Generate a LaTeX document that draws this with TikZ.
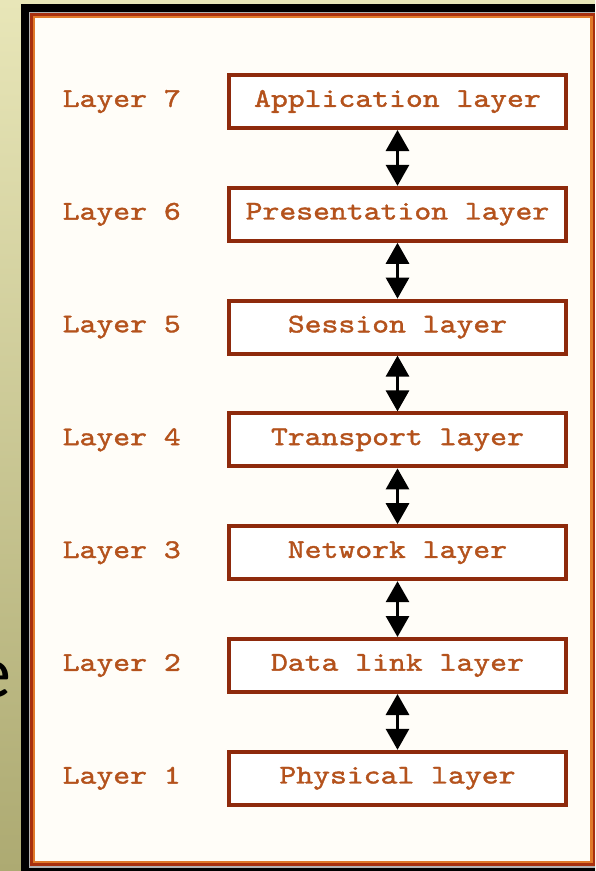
\documentclass[tikz,border=0pt]{standalone}
\usepackage{fontspec}
\newfontfamily\sidefont{Carlito}
\newfontfamily\courierish{lmmono10-regular.otf}[FakeStretch=1.19,FakeBold=1.4]
\newcommand\layerfont{\courierish\fontsize{27}{30}\selectfont}
\usetikzlibrary{positioning,arrows.meta}

\definecolor{boxred}{HTML}{8E2A0C}
\definecolor{layertext}{HTML}{B4521C}
\definecolor{paper}{HTML}{FFFDF8}
\definecolor{framered}{HTML}{A8300E}
\definecolor{frameorange}{HTML}{E07A2A}
\definecolor{oliveup}{HTML}{E8E6B8}
\definecolor{olivedown}{HTML}{ADAA72}

\begin{document}
\begin{tikzpicture}[
  x=1pt, y=-1pt,
  node distance=55.8pt and 46pt,
  layerbox/.style={draw=boxred, line width=4pt, fill=white, minimum width=337pt, minimum height=53pt, inner sep=0pt, font=\layerfont, text=layertext},
  layerlabel/.style={inner sep=0pt, font=\layerfont, text=layertext},
  updown/.style={{Triangle[width=23pt,length=21pt]}-{Triangle[width=23pt,length=21pt]}, line width=3pt, black}
]
  \useasboundingbox (0,0) rectangle (595,871);

  % slide background and frame
  \shade[top color=oliveup, bottom color=olivedown] (0,0) rectangle (595,871);
  \node[anchor=base east, inner sep=0pt, font=\sidefont\fontsize{74}{80}\selectfont] (word) at (12,697) {e};
  \fill[black] (21,4) rectangle (595,871);
  \fill[gray!60] (29,12) rectangle (595,868);
  \fill[framered] (30,13) rectangle (595,866);
  \fill[frameorange] (33,16) rectangle (593,863);
  \fill[paper] (35,18) rectangle (590,861);

  % the seven layers
  \node[layerbox] at (397.5,101.5) (app) {Application layer};
  \node[layerbox, below=of app] (pres) {Presentation layer};
  \node[layerbox, below=of pres] (sess) {Session layer};
  \node[layerbox, below=of sess] (trans) {Transport layer};
  \node[layerbox, below=of trans] (net) {Network layer};
  \node[layerbox, below=of net] (link) {Data link layer};
  \node[layerbox, below=of link] (phys) {Physical layer};

  \node[layerlabel, left=of app] (l7) {Layer 7};
  \node[layerlabel, left=of pres] (l6) {Layer 6};
  \node[layerlabel, left=of sess] (l5) {Layer 5};
  \node[layerlabel, left=of trans] (l4) {Layer 4};
  \node[layerlabel, left=of net] (l3) {Layer 3};
  \node[layerlabel, left=of link] (l2) {Layer 2};
  \node[layerlabel, left=of phys] (l1) {Layer 1};

  \draw[updown] (app) -- (pres);
  \draw[updown] (pres) -- (sess);
  \draw[updown] (sess) -- (trans);
  \draw[updown] (trans) -- (net);
  \draw[updown] (net) -- (link);
  \draw[updown] (link) -- (phys);
\end{tikzpicture}
\end{document}
